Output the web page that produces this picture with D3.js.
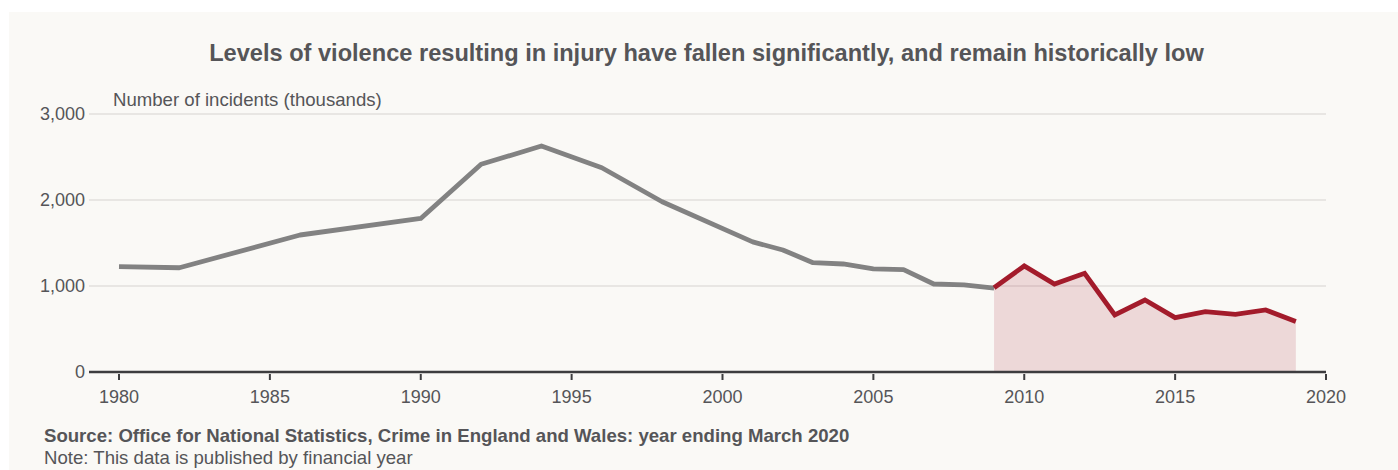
<!DOCTYPE html>
<html>
<head>
<meta charset="utf-8">
<script src="https://cdn.jsdelivr.net/npm/d3@7"></script>
<style>
  html, body { margin: 0; padding: 0; background: #ffffff; }
  svg { display: block; font-family: "Liberation Sans", Arial, sans-serif; }
</style>
</head>
<body>
<svg id="chart" width="1398" height="470"></svg>
<script>
// Incidents of violence with injury (thousands), Crime Survey for England and Wales
const earlyYears  = [1980, 1982, 1986, 1990, 1992, 1994, 1996, 1998, 2001, 2002, 2003, 2004, 2005, 2006, 2007, 2008, 2009];
const earlyValues = [1225, 1212, 1593, 1785, 2415, 2628, 2375, 1980, 1513, 1419, 1271, 1256, 1200, 1190, 1023, 1012, 975];
const recentYears  = [2009, 2010, 2011, 2012, 2013, 2014, 2015, 2016, 2017, 2018, 2019];
const recentValues = [980, 1233, 1023, 1147, 663, 837, 632, 701, 670, 721, 588];
const xTicks = [1980, 1985, 1990, 1995, 2000, 2005, 2010, 2015, 2020];
const yTicks = [0, 1000, 2000, 3000];

const titleText = "Levels of violence resulting in injury have fallen significantly, and remain historically low";
const yTitle = "Number of incidents (thousands)";
const sourceText = "Source: Office for National Statistics, Crime in England and Wales: year ending March 2020";
const noteText = "Note: This data is published by financial year";

const svg = d3.select("#chart");
const W = 1398, H = 470;
const textColor = "#555558";

// panel background
svg.append("rect").attr("x", 9).attr("y", 12).attr("width", W - 9).attr("height", H - 12)
  .attr("fill", "#faf9f6");

const x = d3.scaleLinear().domain([1980, 2020]).range([119, 1326]);
const y = d3.scaleLinear().domain([0, 3000]).range([372, 114]);

// title
svg.append("text").attr("x", 706.5).attr("y", 61).attr("text-anchor", "middle")
  .attr("font-size", 23.6).attr("font-weight", "bold").attr("fill", textColor)
  .text(titleText);

// gridlines
svg.append("g").selectAll("line").data(yTicks.filter(d => d > 0)).join("line")
  .attr("x1", 89).attr("x2", 1326)
  .attr("y1", d => y(d)).attr("y2", d => y(d))
  .attr("stroke", "#e8e6e3").attr("stroke-width", 2);

// y tick labels
svg.append("g").selectAll("text").data(yTicks).join("text")
  .attr("x", 85).attr("y", d => y(d)).attr("dy", "0.36em")
  .attr("text-anchor", "end").attr("font-size", 18).attr("fill", textColor)
  .text(d => d3.format(",")(d));

svg.append("text").attr("x", 113).attr("y", 106)
  .attr("font-size", 18.6).attr("fill", textColor).text(yTitle);

// shaded area for recent years
svg.append("path").datum(recentYears.map((yr, i) => [yr, recentValues[i]]))
  .attr("d", d3.area().x(d => x(d[0])).y0(y(0)).y1(d => y(d[1])))
  .attr("fill", "#a51c30").attr("fill-opacity", 0.15);

// x axis baseline and ticks
svg.append("line").attr("x1", 89).attr("x2", 1326).attr("y1", y(0)).attr("y2", y(0))
  .attr("stroke", "#3d3d3f").attr("stroke-width", 2.6);
const xg = svg.append("g");
xg.selectAll("line").data(xTicks).join("line")
  .attr("x1", d => x(d)).attr("x2", d => x(d))
  .attr("y1", 374).attr("y2", 380)
  .attr("stroke", "#3d3d3f").attr("stroke-width", 2);
xg.selectAll("text").data(xTicks).join("text")
  .attr("x", d => x(d)).attr("y", 403).attr("text-anchor", "middle")
  .attr("font-size", 18).attr("fill", textColor).text(d => d);

// lines
const line = d3.line().x(d => x(d[0])).y(d => y(d[1]));
svg.append("path").datum(earlyYears.map((yr, i) => [yr, earlyValues[i]]))
  .attr("d", line).attr("fill", "none").attr("stroke", "#828282")
  .attr("stroke-width", 4.8).attr("stroke-linejoin", "round");
svg.append("path").datum(recentYears.map((yr, i) => [yr, recentValues[i]]))
  .attr("d", line).attr("fill", "none").attr("stroke", "#a31b2b")
  .attr("stroke-width", 4.8).attr("stroke-linejoin", "miter");

// footer
svg.append("text").attr("x", 44).attr("y", 442).attr("font-size", 18.6)
  .attr("font-weight", "bold").attr("fill", textColor).text(sourceText);
svg.append("text").attr("x", 44).attr("y", 464).attr("font-size", 18.6)
  .attr("fill", textColor).text(noteText);
</script>
</body>
</html>
